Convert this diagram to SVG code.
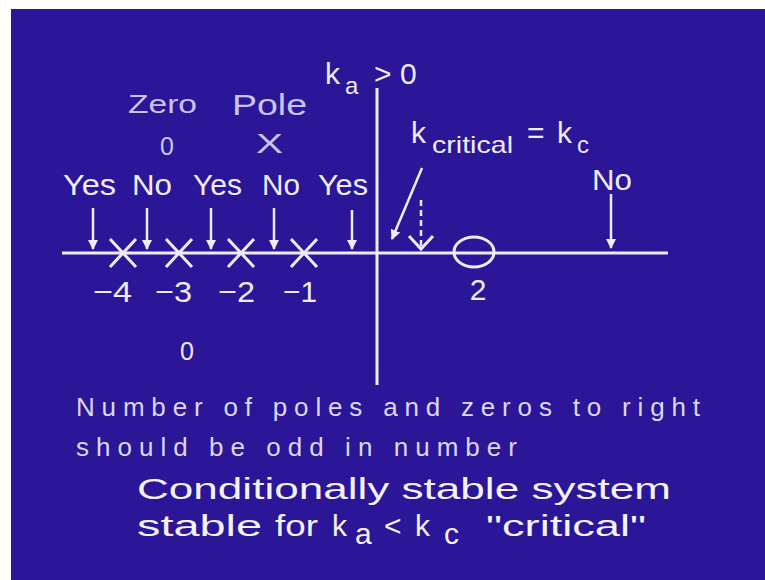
<svg xmlns="http://www.w3.org/2000/svg" width="765" height="580" viewBox="0 0 765 580">
<defs>
<style>
text{font-family:"Liberation Sans",Arial,sans-serif;fill:#efecff}
.lbl{font-size:30px}
.sub{font-size:24px}
.dim{fill:#cbc3f6}
.ln{stroke:#efecff;stroke-width:3;fill:none}
.ar{stroke:#efecff;stroke-width:2.5;fill:none;marker-end:url(#ah)}
.body{font-size:26px;fill:#ddd6ff}
.big{font-size:30px;fill:#f4f2ff}
</style>
<marker id="ah" viewBox="0 0 10 10" refX="9" refY="5" markerWidth="10" markerHeight="10" markerUnits="userSpaceOnUse" orient="auto">
<path d="M0,0 L10,5 L0,10 z" fill="#efecff"/>
</marker>
</defs>
<rect width="765" height="580" fill="#ffffff"/>
<rect x="11" y="9" width="754" height="571" fill="#2a1696"/>

<g id="axes">
<line class="ln" x1="62" y1="253" x2="668" y2="253"/>
<line class="ln" x1="377" y1="88" x2="377" y2="385"/>
</g>

<g id="title">
<text class="lbl" x="325" y="84">k</text>
<text class="sub" x="345" y="94" font-size="22px">a</text>
<text class="lbl" x="374" y="84">&gt;</text>
<text class="lbl" x="400" y="84">0</text>
</g>

<g id="legend">
<text class="dim" x="128" y="113" font-size="25px" textLength="69" lengthAdjust="spacingAndGlyphs">Zero</text>
<text class="dim" x="232" y="115" font-size="30px" textLength="75" lengthAdjust="spacingAndGlyphs">Pole</text>
<text class="dim" x="167" y="155" font-size="25px" text-anchor="middle">0</text>
<text class="dim" x="256" y="153" font-size="28px" textLength="27" lengthAdjust="spacingAndGlyphs">X</text>
</g>

<g id="labels">
<text class="lbl" x="63" y="195" textLength="53" lengthAdjust="spacingAndGlyphs">Yes</text>
<text class="lbl" x="132" y="195" textLength="40" lengthAdjust="spacingAndGlyphs">No</text>
<text class="lbl" x="193" y="195" textLength="49" lengthAdjust="spacingAndGlyphs">Yes</text>
<text class="lbl" x="262" y="195" textLength="38" lengthAdjust="spacingAndGlyphs">No</text>
<text class="lbl" x="318" y="195" textLength="50" lengthAdjust="spacingAndGlyphs">Yes</text>
<text class="lbl" x="592" y="190" textLength="40" lengthAdjust="spacingAndGlyphs">No</text>
</g>

<g id="connectors">
<line class="ar" x1="93" y1="208" x2="93" y2="249"/>
<line class="ar" x1="147" y1="208" x2="147" y2="249"/>
<line class="ar" x1="211" y1="208" x2="211" y2="249"/>
<line class="ar" x1="274" y1="208" x2="274" y2="249"/>
<line class="ar" x1="352" y1="210" x2="352" y2="249"/>
<line class="ar" x1="611" y1="194" x2="611" y2="248"/>
<line class="ar" x1="422" y1="168" x2="392" y2="239"/>
<line stroke="#efecff" stroke-width="2.5" stroke-dasharray="6,4" x1="421" y1="200" x2="421" y2="246"/>
<polyline class="ln" stroke-width="2.5" points="409,236 421,249 433,236"/>
</g>

<g id="poles">
<path class="ln" d="M110,239 L136,267 M136,239 L110,267"/>
<path class="ln" d="M166,239 L192,267 M192,239 L166,267"/>
<path class="ln" d="M228,239 L254,267 M254,239 L228,267"/>
<path class="ln" d="M291,239 L317,267 M317,239 L291,267"/>
</g>

<g id="zero">
<ellipse class="ln" cx="474" cy="252" rx="20" ry="15"/>
</g>

<g id="ticks">
<text class="lbl" x="93" y="302" textLength="39" lengthAdjust="spacingAndGlyphs">−4</text>
<text class="lbl" x="155" y="302" textLength="37" lengthAdjust="spacingAndGlyphs">−3</text>
<text class="lbl" x="218" y="302" textLength="37" lengthAdjust="spacingAndGlyphs">−2</text>
<text class="lbl" x="283" y="302" textLength="34" lengthAdjust="spacingAndGlyphs">−1</text>
<text class="lbl" x="478" y="300" text-anchor="middle">2</text>
<text x="187" y="360" font-size="25px" text-anchor="middle">0</text>
</g>

<g id="kcrit">
<text class="lbl" x="411" y="143">k</text>
<text class="sub" x="432" y="153" textLength="81" lengthAdjust="spacingAndGlyphs" font-size="25px">critical</text>
<text class="lbl" x="527" y="143">=</text>
<text class="lbl" x="557" y="143">k</text>
<text class="sub" x="577" y="153">c</text>
</g>

<g id="notes">
<text class="body" x="76" y="416" textLength="624">Number of poles and zeros to right</text>
<text class="body" x="76" y="456" textLength="441">should be odd in number</text>
<text class="big" x="137" y="499" textLength="534" lengthAdjust="spacingAndGlyphs">Conditionally stable system</text>
<text class="big" x="137" y="536" textLength="125" lengthAdjust="spacingAndGlyphs">stable</text>
<text class="big" x="275" y="536" textLength="43" lengthAdjust="spacingAndGlyphs">for</text>
<text class="big" x="332" y="536">k</text>
<text class="big" x="355" y="544" font-size="24px">a</text>
<text class="big" x="384" y="536">&lt;</text>
<text class="big" x="415" y="536">k</text>
<text class="big" x="444" y="544" font-size="24px">c</text>
<text class="big" x="486" y="536" textLength="160" lengthAdjust="spacingAndGlyphs">"critical"</text>
</g>
</svg>
